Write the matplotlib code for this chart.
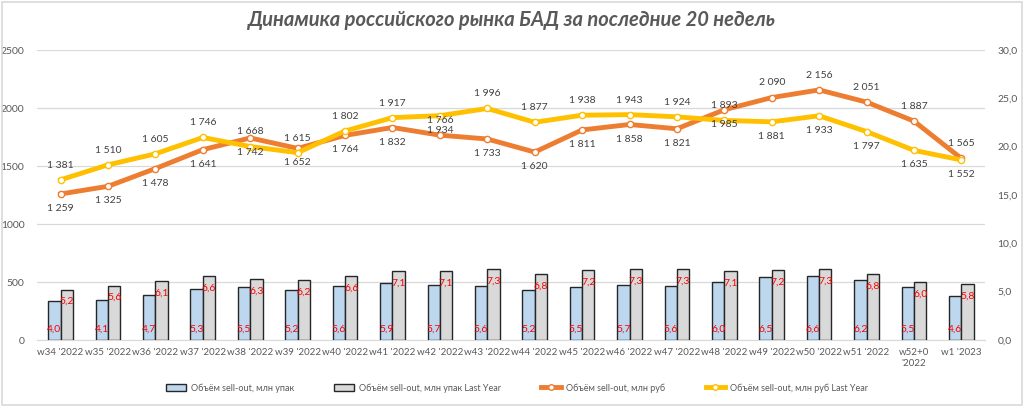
import numpy as np
import matplotlib.pyplot as plt
from matplotlib.patches import Patch, Rectangle
from matplotlib.lines import Line2D
from matplotlib.ticker import FuncFormatter

plt.rcParams['font.family'] = ['Lato', 'DejaVu Sans']

# weeks
weeks = ["w34 '2022", "w35 '2022", "w36 '2022", "w37 '2022", "w38 '2022",
         "w39 '2022", "w40 '2022", "w41 '2022", "w42 '2022", "w43 '2022",
         "w44 '2022", "w45 '2022", "w46 '2022", "w47 '2022", "w48 '2022",
         "w49 '2022", "w50 '2022", "w51 '2022", "w52+0\n'2022", "w1 '2023"]

# sell-out, mln packs (right axis)
packs = [4.0, 4.1, 4.7, 5.3, 5.5, 5.2, 5.6, 5.9, 5.7, 5.6,
         5.2, 5.5, 5.7, 5.6, 6.0, 6.5, 6.6, 6.2, 5.5, 4.6]
packs_ly = [5.2, 5.6, 6.1, 6.6, 6.3, 6.2, 6.6, 7.1, 7.1, 7.3,
            6.8, 7.2, 7.3, 7.3, 7.1, 7.2, 7.3, 6.8, 6.0, 5.8]

# sell-out, mln rub (left axis)
rub = [1259, 1325, 1478, 1641, 1742, 1652, 1764, 1832, 1766, 1733,
       1620, 1811, 1858, 1821, 1985, 2090, 2156, 2051, 1887, 1565]
rub_ly = [1381, 1510, 1605, 1746, 1668, 1615, 1802, 1917, 1934, 1996,
          1877, 1938, 1943, 1924, 1893, 1881, 1933, 1797, 1635, 1552]

# where the line labels sit (+1 above, -1 below)
rub_pos = [-1] * 8 + [1] + [-1] * 6 + [1] * 5
rub_ly_pos = [-p for p in rub_pos]

x = np.arange(len(weeks))
txt = '#595959'

fig = plt.figure(figsize=(10.24, 4.07), dpi=100)
fig.patches.append(Rectangle((0.002, 0.004), 0.996, 0.992, transform=fig.transFigure,
                             fill=False, edgecolor='#D9D9D9', linewidth=1.2))

ax = fig.add_axes([0.036, 0.1646, 0.926, 0.7125])
ax2 = ax.twinx()
ax3 = ax.twinx()

# left axis: grid + ticks
ax.set_ylim(0, 2500)
ax.set_yticks(np.arange(0, 2501, 500))
ax.grid(axis='y', color='#D9D9D9', linewidth=0.9)
ax.set_axisbelow(True)
ax.set_xlim(-0.5, len(weeks) - 0.5)
ax.set_xticks(x)
ax.set_xticklabels(weeks, fontsize=7, color=txt, linespacing=1.3)
ax.tick_params(axis='both', length=0, colors=txt)
ax.tick_params(axis='y', pad=9, labelsize=7.5)
ax.tick_params(axis='x', pad=6)
for s in ['top', 'right', 'left']:
    ax.spines[s].set_visible(False)
ax.spines['bottom'].set_color('#D9D9D9')

# right axis: bars
bw = 0.26
ax2.bar(x - bw / 2, packs, bw, color='#BDD7EE', edgecolor='#262626', linewidth=1.0)
ax2.bar(x + bw / 2, packs_ly, bw, color='#D9D9D9', edgecolor='#262626', linewidth=1.0)
ax2.set_ylim(0, 30)
ax2.set_yticks(np.arange(0, 31, 5))
ax2.yaxis.set_major_formatter(FuncFormatter(lambda v, p: f"{v:.1f}".replace('.', ',')))
ax2.tick_params(axis='y', length=0, colors=txt, labelsize=7.5, pad=9)
for s in ax2.spines.values():
    s.set_visible(False)
for i in range(len(weeks)):
    ax2.annotate(f"{packs[i]:.1f}".replace('.', ','), (x[i] - bw / 2, 0),
                 xytext=(0, 8), textcoords='offset points', ha='center', va='center',
                 fontsize=7.5, color='#FF0000')
    ax2.annotate(f"{packs_ly[i]:.1f}".replace('.', ','), (x[i] + bw / 2, packs_ly[i]),
                 xytext=(0, -8.5), textcoords='offset points', ha='center', va='center',
                 fontsize=7.5, color='#FF0000')

# lines on top, left scale
ax3.set_ylim(0, 2500)
ax3.set_yticks([])
for s in ax3.spines.values():
    s.set_visible(False)
ax3.plot(x, rub, color='#ED7D31', linewidth=3.5, marker='o', markersize=4.5,
         markerfacecolor='white', markeredgecolor='#ED7D31', markeredgewidth=1, zorder=3)
ax3.plot(x, rub_ly, color='#FFC000', linewidth=3.5, marker='o', markersize=4.5,
         markerfacecolor='white', markeredgecolor='#FFC000', markeredgewidth=1, zorder=3)
for vals, pos in [(rub, rub_pos), (rub_ly, rub_ly_pos)]:
    for i, v in enumerate(vals):
        ax3.annotate(f"{v:,}".replace(',', ' '), (x[i], v), xytext=(0, 10.5 * pos[i]),
                     textcoords='offset points', ha='center', va='center',
                     fontsize=7.5, color='#404040')

fig.text(0.5, 0.95, "Динамика российского рынка БАД за последние 20 недель",
         ha='center', va='center', fontsize=14.5, fontweight='bold', style='italic', color=txt)

handles = [
    Patch(facecolor='#BDD7EE', edgecolor='#262626', linewidth=1.0),
    Patch(facecolor='#D9D9D9', edgecolor='#262626', linewidth=1.0),
    Line2D([0], [0], color='#ED7D31', linewidth=3.5, marker='o', markersize=4,
           markerfacecolor='white', markeredgecolor='#ED7D31'),
    Line2D([0], [0], color='#FFC000', linewidth=3.5, marker='o', markersize=4,
           markerfacecolor='white', markeredgecolor='#FFC000'),
]
labels = ["Объём sell-out, млн упак", "Объём sell-out, млн упак Last Year",
          "Объём sell-out, млн руб", "Объём sell-out, млн руб Last Year"]
leg = fig.legend(handles, labels, loc='center', bbox_to_anchor=(0.505, 1 - 388 / 407), ncol=4,
                 frameon=False, fontsize=6.5, handlelength=2.2, handleheight=0.8,
                 columnspacing=4.5, handletextpad=0.5)
for t in leg.get_texts():
    t.set_color(txt)

fig.savefig('out.png', dpi=100)
